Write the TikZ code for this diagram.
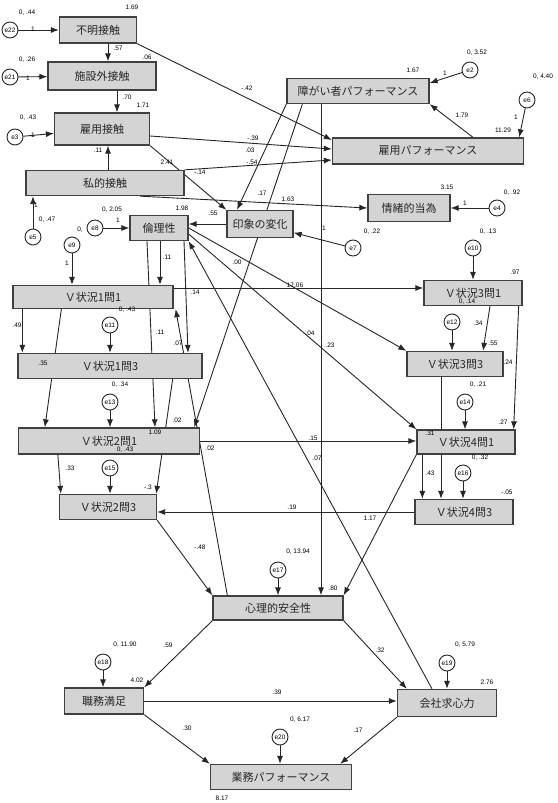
\documentclass[tikz,border=0pt]{standalone}
\usepackage{fontspec}
\setmainfont{Liberation Sans}
\newfontfamily\jp{Noto Sans CJK JP}
\usetikzlibrary{arrows.meta,calc}
\pgfdeclarelayer{bg}
\pgfsetlayers{bg,main}
\tikzset{
  var/.style={draw=black!75, line width=1.3pt, fill=black!17, text=black!85,
    font=\jp\fontsize{11}{12}\selectfont, inner sep=0pt},
  err/.style={circle, draw=black!85, line width=0.9pt, fill=white, minimum size=16pt,
    inner sep=0pt, font=\fontsize{6.5}{6.5}\selectfont},
  lab/.style={font=\fontsize{6.5}{7}\selectfont, inner sep=0pt},
  link/.style={draw=black!85, line width=0.9pt, -{Latex[length=8pt,width=6pt]}},
}
\begin{document}
\begin{tikzpicture}[x=1pt,y=-1pt]
  \useasboundingbox (0,0) rectangle (557,803);
  % observed variables
  \node[var, minimum width=77pt, minimum height=26pt] (bumei) at (98,30) {不明接触};
  \node[var, minimum width=108pt, minimum height=28pt] (shisetsu) at (102,76) {施設外接触};
  \node[var, minimum width=95pt, minimum height=32pt] (koyouS) at (102,129) {雇用接触};
  \node[var, minimum width=158pt, minimum height=25pt] (shiteki) at (105,183) {私的接触};
  \node[var, minimum width=58pt, minimum height=25pt] (rinri) at (159,228) {倫理性};
  \node[var, minimum width=66pt, minimum height=27pt] (inshou) at (260,224) {印象の変化};
  \node[var, minimum width=142pt, minimum height=25pt] (shogai) at (358,91) {障がい者パフォーマンス};
  \node[var, minimum width=191pt, minimum height=26pt] (koyouP) at (428,151) {雇用パフォーマンス};
  \node[var, minimum width=82pt, minimum height=27pt] (jocho) at (409,208) {情緒的当為};
  \node[var, minimum width=160pt, minimum height=23pt] (v11) at (93,297) {Ｖ状況1問1};
  \node[var, minimum width=98pt, minimum height=25pt] (v31) at (473,293) {Ｖ状況3問1};
  \node[var, minimum width=184pt, minimum height=25pt] (v13) at (110,366) {Ｖ状況1問3};
  \node[var, minimum width=96pt, minimum height=25pt] (v33) at (455,364) {Ｖ状況3問3};
  \node[var, minimum width=181pt, minimum height=26pt] (v21) at (109,441) {Ｖ状況2問1};
  \node[var, minimum width=98pt, minimum height=24pt] (v41) at (466,442) {Ｖ状況4問1};
  \node[var, minimum width=97pt, minimum height=25pt] (v23) at (108,507) {Ｖ状況2問3};
  \node[var, minimum width=98pt, minimum height=25pt] (v43) at (464,512) {Ｖ状況4問3};
  \node[var, minimum width=130pt, minimum height=24pt] (shinri) at (278,608) {心理的安全性};
  \node[var, minimum width=79pt, minimum height=26pt] (shokumu) at (104,701) {職務満足};
  \node[var, minimum width=99pt, minimum height=27pt] (kaisha) at (447,703) {会社求心力};
  \node[var, minimum width=141pt, minimum height=25pt] (gyomu) at (281,777) {業務パフォーマンス};
  % error terms
  \node[err] (e22) at (10,30) {e22};
  \node[err] (e21) at (10,77) {e21};
  \node[err] (e3) at (15,137) {e3};
  \node[err] (e5) at (33,237) {e5};
  \node[err] (e8) at (95,228) {e8};
  \node[err] (e9) at (72,245) {e9};
  \node[err] (e2) at (470,70) {e2};
  \node[err] (e6) at (527,100) {e6};
  \node[err] (e4) at (497,208) {e4};
  \node[err] (e7) at (353,248) {e7};
  \node[err] (e10) at (473,248) {e10};
  \node[err] (e11) at (110,325) {e11};
  \node[err] (e12) at (452,322) {e12};
  \node[err] (e13) at (110,402) {e13};
  \node[err] (e14) at (465,402) {e14};
  \node[err] (e15) at (110,468) {e15};
  \node[err] (e16) at (463,473) {e16};
  \node[err] (e17) at (278,570) {e17};
  \node[err] (e18) at (103,662) {e18};
  \node[err] (e19) at (447,663) {e19};
  \node[err] (e20) at (280,737) {e20};
  \begin{pgfonlayer}{bg}
    % paths
    \draw[link] ($(bumei.south)+(10,0)$) -- ($(bumei.south |- shisetsu.north)+(10,0)$);
    \draw[link] ($(shisetsu.south)+(15,0)$) -- ($(shisetsu.south |- koyouS.north)+(15,0)$);
    \draw[link] (bumei.south east) -- ($(koyouP.west)+(0,-11)$);
    \draw[link] ($(koyouS.east)+(0,7)$) -- ($(koyouP.west)+(0,-2)$);
    \draw[link] (shiteki.north east) -- ($(koyouP.west)+(0,9)$);
    \draw[link] (koyouS.south east) -- (inshou.north west);
    \draw[link] ($(shiteki.north)+(3,0)$) -- ($(shiteki.north |- koyouS.south)+(3,0)$);
    \draw[link] ($(shiteki.south)+(35,0)$) -- (jocho.west);
    \draw[link] (shogai.south west) -- ($(inshou.north)+(-23,0)$);
    \draw[link] ($(shogai.south west)+(16,0)$) -- ($(v21.north east)+(-6,0)$);
    \draw[link] ($(shogai.south)+(-37,0)$) -- ($(shogai.south |- shinri.north)+(-37,0)$);
    \draw[link] ($(koyouP.north)+(45,0)$) -- (shogai.south east);
    \draw[link] (inshou.west) -- (inshou.west -| rinri.east);
    \draw[link] ($(rinri.south)+(1,0)$) -- ($(rinri.south |- v11.north)+(1,0)$);
    \draw[link] ($(rinri.south)+(-12,0)$) -- ($(v21.north)+(46,0)$);
    \draw[link] ($(rinri.south)+(25,0)$) -- ($(v13.north)+(78,0)$);
    \draw[link] (rinri.east) -- (v33.north west);
    \draw[link] ($(rinri.east)+(0,6)$) -- (v41.north west);
    \draw[link] ($(kaisha.north)+(-15,0)$) -- (rinri.south east);
    \draw[link] ($(v11.east)+(0,-9)$) -- ($(v31.west)+(0,-5)$);
    \draw[link] ($(v11.south west)+(10,0)$) -- ($(v11.south west |- v13.north)+(10,0)$);
    \draw[link] ($(v11.south west)+(49,0)$) -- ($(v21.north west)+(27,0)$);
    \draw[link] ($(shinri.north west)+(15,0)$) -- ($(v11.south east)+(2,0)$);
    \draw[link] ($(v13.south east)+(-30,0)$) -- ($(v23.north east)+(-1,0)$);
    \draw[link] ($(v21.south west)+(40,0)$) -- ($(v23.north west)+(2,0)$);
    \draw[link] (v21.east) -- (v21.east -| v41.west);
    \draw[link] (v43.west) -- (v43.west -| v23.east);
    \draw[link] (v23.south east) -- (shinri.north west);
    \draw[link] (v41.south west) -- (shinri.north east);
    \draw[link] ($(v41.south west)+(6,0)$) -- ($(v41.south west |- v43.north)+(6,0)$);
    \draw[link] ($(v33.south)+(-14,0)$) -- ($(v33.south |- v43.north)+(-14,0)$);
    \draw[link] ($(v31.south)+(17,0)$) -- ($(v33.north)+(28,0)$);
    \draw[link] ($(v31.south east)+(-4,0)$) -- ($(v41.north east)+(-2,0)$);
    \draw[link] (shinri.south west) -- (shokumu.north east);
    \draw[link] (shinri.south east) -- ($(kaisha.north west)+(10,0)$);
    \draw[link] (shokumu.east) -- (shokumu.east -| kaisha.west);
    \draw[link] (shokumu.south east) -- (gyomu.north west);
    \draw[link] (kaisha.south west) -- ($(gyomu.north east)+(-12,0)$);
    % error arrows
    \draw[link] (e22) -- (bumei);
    \draw[link] (e21) -- (shisetsu);
    \draw[link] (e3) -- (koyouS);
    \draw[link] (e5) -- (e5 |- shiteki.south);
    \draw[link] (e8) -- (rinri);
    \draw[link] (e9) -- (e9 |- v11.north);
    \draw[link] (e2) -- ($(shogai.east)+(0,-8)$);
    \draw[link] (e6) -- ($(koyouP.north east)+(-5,0)$);
    \draw[link] (e4) -- (jocho);
    \draw[link] (e7) -- (inshou);
    \draw[link] (e10) -- (e10 |- v31.north);
    \draw[link] (e11) -- (e11 |- v13.north);
    \draw[link] (e12) -- (e12 |- v33.north);
    \draw[link] (e13) -- (e13 |- v21.north);
    \draw[link] (e14) -- (e14 |- v41.north);
    \draw[link] (e15) -- (e15 |- v23.north);
    \draw[link] (e16) -- (e16 |- v43.north);
    \draw[link] (e17) -- (e17 |- shinri.north);
    \draw[link] (e18) -- (e18 |- shokumu.north);
    \draw[link] (e19) -- (e19 |- kaisha.north);
    \draw[link] (e20) -- (e20 |- gyomu.north);
  \end{pgfonlayer}
  % estimates
  \foreach \x/\y/\t [count=\i] in {
    27/13/{0, .44}, 33/29/1, 132/7/1.69, 118/48/.57, 147/57/.06, 247/88/-.42,
    27/60/{0, .26}, 28/78/1, 127/97/.70, 143/105/1.71, 28/118/{0, .43}, 33/135/1,
    98/150/.11, 253/138/-.39, 250/150/.03, 252/162/-.54, 167/162/2.41, 200/172/-.14,
    262/193/.17, 288/199/1.63, 182/208/1.98, 213/213/.55, 112/210/{0, 2.05},
    118/220/1, 80/230/{0,}, 47/220/{0, .47}, 36/205/1, 67/263/1,
    413/70/1.67, 477/53/{0, 3.52}, 445/73/1, 543/77/{0, 4.40}, 516/117/1,
    462/115/1.79, 503/130/11.29, 447/187/3.15, 512/193/{0, .92}, 465/203/1,
    372/232/{0, .22}, 324/228/1, 167/257/.11, 160/332/.11, 178/343/.07,
    237/262/.00, 295/285/17.06, 195/292/.14, 310/333/.04, 330/345/.23,
    488/232/{0, .13}, 515/272/.97, 467/302/{0, .14}, 478/323/.34, 493/343/.55,
    508/362/.24, 127/310/{0, .43}, 17/325/.49, 43/363/.35, 120/385/{0, .34},
    155/432/1.09, 177/420/.02, 210/448/.02, 125/450/{0, .43}, 70/468/.33,
    148/487/-.3, 313/438/.15, 317/458/.07, 292/507/.19, 370/518/1.17,
    478/385/{0, .21}, 503/422/.27, 430/433/.31, 430/473/.43, 480/458/{0, .32},
    507/492/-.05, 200/547/-.48, 298/552/{0, 13.94}, 333/588/.80, 168/645/.59,
    380/650/.32, 125/645/{0, 11.90}, 137/680/4.02, 277/692/.39,
    465/645/{0, 5.79}, 487/682/2.76, 187/728/.30, 358/730/.17,
    300/720/{0, 6.17}, 222/798/8.17}
    \node[lab] (est\i) at (\x,\y) {\t};
\end{tikzpicture}
\end{document}
